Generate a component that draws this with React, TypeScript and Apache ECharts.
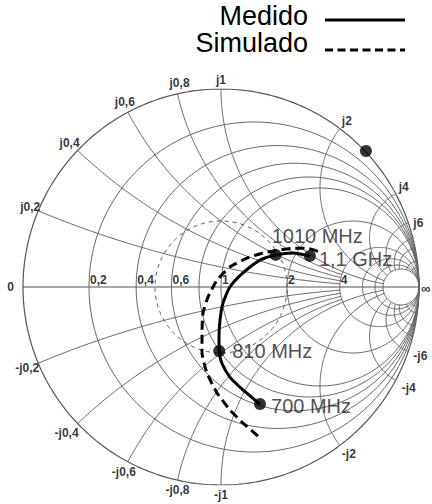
import React, { useEffect, useRef } from "react";
import * as echarts from "echarts";

// Smith chart grid (normalised impedance)
const resistanceCircles = [0.2, 0.4, 0.6, 0.8, 1, 2, 4, 6, 8, 10];
const reactanceArcs = [0.2, 0.4, 0.6, 0.8, 1, 2, 4, 6, 8, 10, 15, 20];
const reactanceRmax = [4, 4, 4, 4, 10, 10, 10, 10, 10, 10, 10, 10];

const resistanceTickValues = [0.2, 0.4, 0.6, 1, 2, 4];
const resistanceTickLabels = ["0,2", "0,4", "0,6", "1", "2", "4"];
const reactanceTickValues = [0.2, 0.4, 0.6, 0.8, 1, 2, 4, 6];
const reactanceTickLabels = ["j0,2", "j0,4", "j0,6", "j0,8", "j1", "j2", "j4", "j6"];
const negReactanceTickLabels = ["-j0,2", "-j0,4", "-j0,6", "-j0,8", "-j1", "-j2", "-j4", "-j6"];

const measuredRe = [0.197, 0.172, 0.111, 0.045, 0.004, -0.009, -0.01, -0.005, 0.01, 0.045, 0.111, 0.197, 0.276, 0.364, 0.449];
const measuredIm = [-0.591, -0.571, -0.52, -0.455, -0.384, -0.323, -0.253, -0.167, -0.081, 0.0, 0.071, 0.136, 0.162, 0.172, 0.157];

// Simulated reflection coefficient
const simulatedRe = [0.187, 0.111, 0.045, -0.02, -0.071, -0.096, -0.096, -0.091, -0.066, -0.02, 0.045, 0.131, 0.212, 0.283, 0.364, 0.434, 0.49, 0.51];
const simulatedIm = [-0.753, -0.687, -0.621, -0.535, -0.434, -0.333, -0.232, -0.131, -0.051, 0.035, 0.101, 0.146, 0.172, 0.185, 0.196, 0.196, 0.18, 0.168];

// Frequency markers on the measured curve
const markerNames = ["700 MHz", "810 MHz", "1010 MHz", "1,1 GHz"];
const markerRe = [0.197, -0.009, 0.276, 0.449];
const markerIm = [-0.591, -0.323, 0.162, 0.157];
const extraMarkerRe = [0.732];
const extraMarkerIm = [0.687];

const vswrCircle = 2;

const gam = (r: number, x: number): [number, number] => {
  const d = (r + 1) * (r + 1) + x * x;
  return [(r * r + x * x - 1) / d, (2 * x) / d];
};

const GRID = "#666";

function buildOption() {
  const series: any[] = [];
  const gridLine = (data: number[][], color = GRID, width = 1) => ({
    type: "line",
    data,
    showSymbol: false,
    symbol: "none",
    silent: true,
    z: 1,
    lineStyle: { color, width },
  });
  const outer: number[][] = [];
  for (let i = 0; i <= 360; i++) {
    const a = (i / 360) * Math.PI * 2;
    outer.push([Math.cos(a), Math.sin(a)]);
  }
  series.push(gridLine(outer, "#555", 1.2));
  series.push(gridLine([[-1, 0], [1, 0]], "#555", 1));
  resistanceCircles.forEach((r) => {
    const c = r / (1 + r);
    const rad = 1 / (1 + r);
    const pts: number[][] = [];
    for (let i = 0; i <= 240; i++) {
      const a = (i / 240) * Math.PI * 2;
      pts.push([c + rad * Math.cos(a), rad * Math.sin(a)]);
    }
    series.push(gridLine(pts));
  });
  reactanceArcs.forEach((x, k) => {
    const sMax = Math.atan(reactanceRmax[k]);
    [1, -1].forEach((sg) => {
      const pts: number[][] = [];
      for (let i = 0; i <= 160; i++) {
        const s = (i / 160) * sMax;
        const r = Math.tan(s);
        pts.push(gam(r, sg * x));
      }
      series.push(gridLine(pts));
    });
  });
  const g = (vswrCircle - 1) / (vswrCircle + 1);
  const vs: number[][] = [];
  for (let i = 0; i <= 240; i++) {
    const a = (i / 240) * Math.PI * 2;
    vs.push([g * Math.cos(a), g * Math.sin(a)]);
  }
  series.push({
    type: "line",
    data: vs,
    showSymbol: false,
    symbol: "none",
    silent: true,
    z: 2,
    lineStyle: { color: "#555", width: 1, type: [4, 4] },
  });

  const lblFont = { fontFamily: "Liberation Sans, Arial, sans-serif", fontWeight: "bold" as const, fontSize: 12, color: "#000" };

  const posOff: any[] = [
    ["right", "middle", 2, -4],
    ["right", "bottom", 2, -1],
    ["right", "bottom", 7, -4],
    ["center", "bottom", 2, -5],
    ["center", "bottom", 0, -3],
    ["left", "bottom", 2, -2],
    ["left", "bottom", 3, -1],
    ["left", "middle", 5, 0],
  ];
  const negOff: any[] = [
    ["right", "middle", 1, 5],
    ["right", "top", 1, 3],
    ["right", "top", 8, 4],
    ["center", "top", 0, 4],
    ["center", "top", 0, 4],
    ["left", "top", 2, 3],
    ["left", "top", 6, 2],
    ["left", "middle", 5, 5],
  ];
  const tickData: any[] = [];
  reactanceTickValues.forEach((x, i) => {
    tickData.push({
      value: gam(0, x),
      label: { show: true, formatter: reactanceTickLabels[i], position: "inside", align: posOff[i][0], verticalAlign: posOff[i][1], offset: [posOff[i][2], posOff[i][3]], ...lblFont },
    });
    tickData.push({
      value: gam(0, -x),
      label: { show: true, formatter: negReactanceTickLabels[i], position: "inside", align: negOff[i][0], verticalAlign: negOff[i][1], offset: [negOff[i][2], negOff[i][3]], ...lblFont },
    });
  });
  resistanceTickValues.forEach((r, i) => {
    tickData.push({
      value: gam(r, 0),
      label: { show: true, formatter: resistanceTickLabels[i], position: "inside", align: "left", verticalAlign: "bottom", offset: [1, -1], ...lblFont },
    });
  });
  tickData.push({ value: [-1, 0], label: { show: true, formatter: "0", position: "inside", align: "right", verticalAlign: "middle", offset: [-9, 0], ...lblFont } });
  tickData.push({ value: [1, 0], label: { show: true, formatter: "∞", position: "inside", align: "left", verticalAlign: "middle", offset: [2, 1], ...lblFont, fontSize: 13 } });
  series.push({
    type: "scatter",
    data: tickData,
    symbolSize: 1,
    itemStyle: { color: "rgba(0,0,0,0)" },
    silent: true,
    z: 5,
  });

  series.push({
    name: "Simulado",
    type: "line",
    data: simulatedRe.map((v, i) => [v, simulatedIm[i]]),
    showSymbol: false,
    symbol: "none",
    smooth: 0.15,
    z: 6,
    lineStyle: { color: "#000", width: 3, type: [9, 5] },
  });
  series.push({
    name: "Medido",
    type: "line",
    data: measuredRe.map((v, i) => [v, measuredIm[i]]),
    showSymbol: false,
    symbol: "none",
    smooth: 0.2,
    z: 7,
    lineStyle: { color: "#000", width: 3 },
  });
  const mOff: number[][] = [[11, 2], [13, 0], [-4, -19], [9, 3]];
  series.push({
    type: "scatter",
    data: markerRe.map((v, i) => ({
      value: [v, markerIm[i]],
      label: {
        show: true,
        formatter: markerNames[i],
        position: "inside",
        align: "left",
        verticalAlign: "middle",
        offset: mOff[i],
        fontFamily: "Liberation Sans, Arial, sans-serif",
        fontSize: 20,
        color: "#222",
      },
    })).concat(extraMarkerRe.map((v, i) => ({ value: [v, extraMarkerIm[i]], label: { show: false } } as any))),
    symbol: "circle",
    symbolSize: 12,
    itemStyle: { color: "#000" },
    z: 8,
  });

  return {
    animation: false,
    backgroundColor: "#fff",
    grid: { left: 23, right: 13, top: 89, bottom: 19 },
    xAxis: { type: "value", min: -1, max: 1, show: false },
    yAxis: { type: "value", min: -1, max: 1, show: false },
    graphic: [
      { type: "text", right: 124, top: 2, style: { text: "Medido", fontFamily: "Liberation Sans, Arial, sans-serif", fontSize: 27, fill: "#000" } },
      { type: "text", right: 124, top: 29, style: { text: "Simulado", fontFamily: "Liberation Sans, Arial, sans-serif", fontSize: 27, fill: "#000" } },
      { type: "line", shape: { x1: 325, y1: 20, x2: 405, y2: 20 }, style: { stroke: "#000", lineWidth: 3 } },
      { type: "line", shape: { x1: 325, y1: 50, x2: 405, y2: 50 }, style: { stroke: "#000", lineWidth: 3, lineDash: [8, 4.5] } },
    ],
    series,
  };
}

export default function App() {
  const ref = useRef<HTMLDivElement>(null);
  useEffect(() => {
    if (!ref.current) return;
    const chart = echarts.init(ref.current, null, { renderer: "svg" });
    chart.setOption(buildOption() as any);
    return () => chart.dispose();
  }, []);
  return <div ref={ref} style={{ position: "fixed", left: 0, top: 0, width: 432, height: 504, background: "#fff" }} />;
}
